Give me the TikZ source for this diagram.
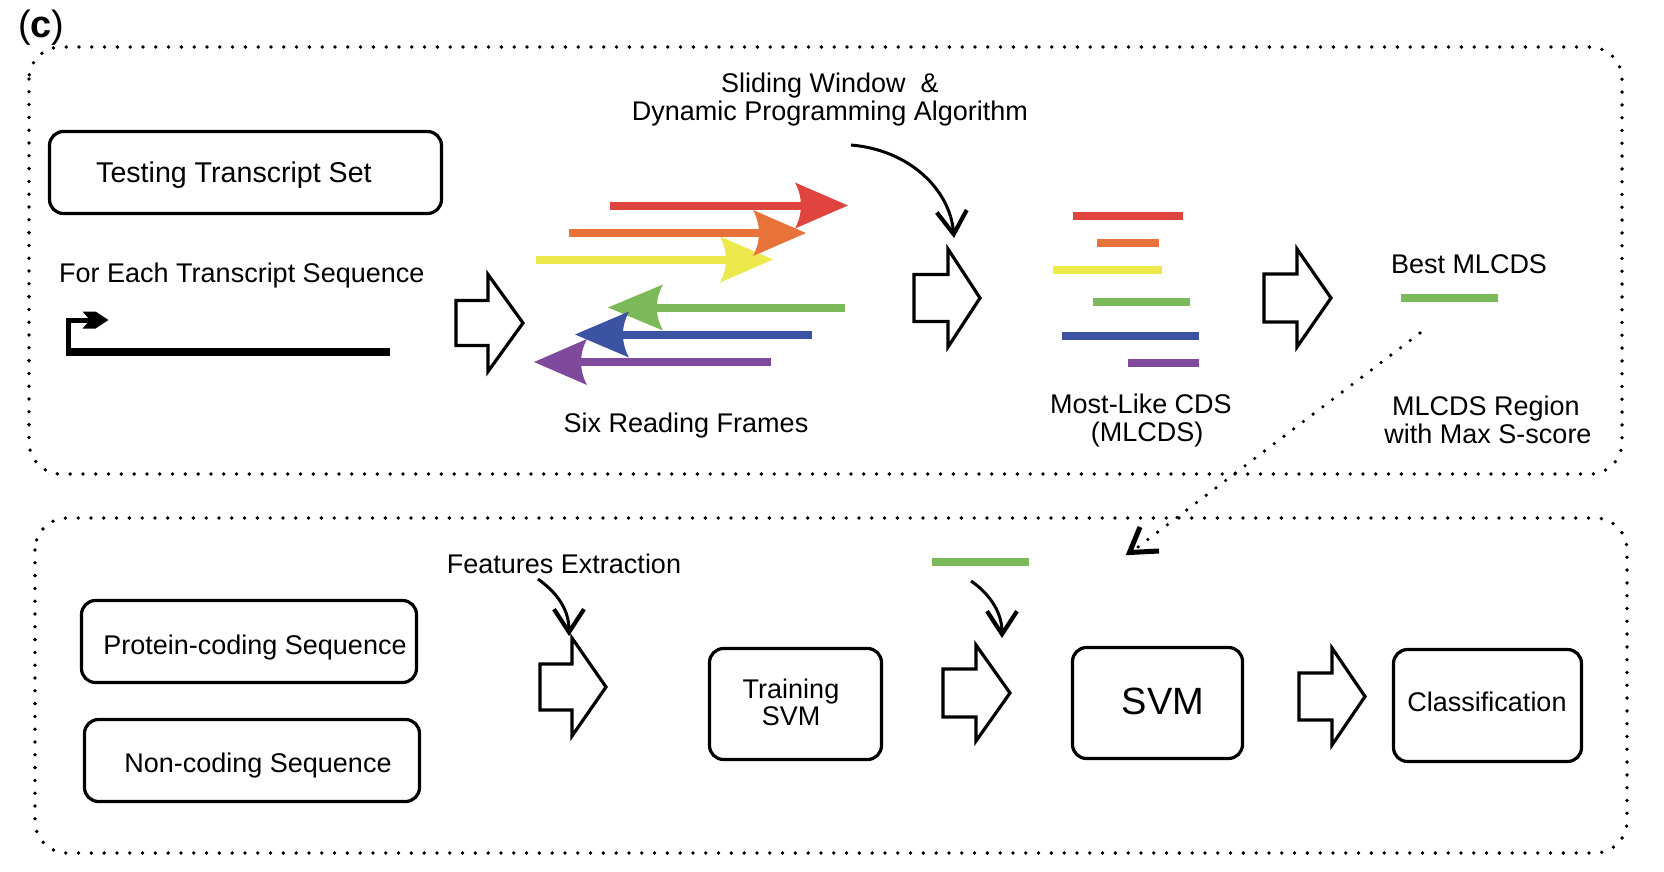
\documentclass[tikz,border=0pt]{standalone}
\usepackage{fontspec}
\setmainfont{Liberation Sans}
\usetikzlibrary{arrows.meta}
\definecolor{fred}{HTML}{E0443F}
\definecolor{forange}{HTML}{E8733A}
\definecolor{fyellow}{HTML}{EDE84B}
\definecolor{fgreen}{HTML}{7CBA59}
\definecolor{fblue}{HTML}{3C52A3}
\definecolor{fpurple}{HTML}{7F4A9B}
% frame arrow: #1 colour, #2 line start x, #3 head back x, #4 tip x, #5 y
\newcommand{\framearrow}[5]{%
  \fill[#1] ({#2},{#5-4}) rectangle ({#3+0.2*(#4-#3)},{#5+4});
  \fill[#1] ({#4},{#5}) -- ({#3},{#5-23}) .. controls ({#3+0.15*(#4-#3)},{#5-8}) and ({#3+0.15*(#4-#3)},{#5+8}) .. ({#3},{#5+23}) -- cycle;}
% hollow arrow: #1 left x, #2 head base x, #3 tip x, #4 centre y, #5 body half, #6 head half
\newcommand{\hollowarrow}[6]{%
  \draw[hollowarr] ({#1},{#4-#5}) -- ({#2},{#4-#5}) -- ({#2},{#4-#6}) -- ({#3},{#4}) -- ({#2},{#4+#6}) -- ({#2},{#4+#5}) -- ({#1},{#4+#5}) -- cycle;}
\begin{document}
\begin{tikzpicture}[x=1pt,y=-1pt,
  txt/.style={font=\fontsize{27}{28}\selectfont, inner sep=0pt, anchor=base},
  box/.style={draw, line width=3.2pt, rounded corners=14pt, inner sep=0pt},
  hollowarr/.style={draw, fill=white, line width=3.2pt, miter limit=10},
  dotbox/.style={line width=3.8pt, line cap=round, dash pattern=on 0pt off 12.8pt, rounded corners=32pt},
  dotline/.style={line width=3.6pt, line cap=round, dash pattern=on 0pt off 12.2pt},
  curvarr/.style={line width=3pt, -{Straight Barb[length=23pt,width=30pt,line width=4.2pt]}}]
\useasboundingbox (0,0) rectangle (1664,872);
\fill[white] (0,0) rectangle (1664,872);

% panel label
\node[font=\fontsize{38}{40}\selectfont, inner sep=0pt, anchor=base west] (lab) at (18,38) {(\textbf{c})};

% dotted panels
\draw[dotbox] (29,47) rectangle (1622,474);
\draw[dotbox] (35,518) rectangle (1627,853);

% ---------- top panel ----------
\node[box, minimum width=392pt, minimum height=82pt] (testbox) at (245.5,172.5) {};
\node[txt, anchor=base west, font=\fontsize{28.6}{30}\selectfont] (testtxt) at (96,182) {Testing Transcript Set};
\node[txt, anchor=base west] (foreach) at (59,282) {For Each Transcript Sequence};

% transcript with promoter arrow
\draw[line width=4.5pt] (68.5,353) -- (68.5,320.5) -- (92,320.5);
\fill (82.5,311.5) -- (95.5,311.5) -- (108.5,320) -- (95.5,328.5) -- (82.5,328.5) -- (90,320) -- cycle;
\fill (66.25,348) rectangle (390,355.5);

\hollowarrow{456}{488}{523}{323}{22.5}{48.5}

% six reading frames
\framearrow{fyellow}{536}{720}{773}{259.5}
\framearrow{forange}{569}{753}{806}{233}
\framearrow{fred}{610}{795}{848}{205.5}
\framearrow{fgreen}{845}{663}{608}{307.5}
\framearrow{fblue}{812}{629}{575}{334.5}
\framearrow{fpurple}{771}{587}{534}{362}
\node[txt] (six) at (686,432) {Six Reading Frames};

% sliding window
\node[txt] (slide1) at (830,93) {Sliding Window\ \ \&};
\node[txt] (slide2) at (830,121) {Dynamic Programming Algorithm};
\coordinate (c1s) at (851,145);
\coordinate (c1e) at (954,238);
\draw[curvarr] (c1s) .. controls (910,150) and (950,190) .. (c1e);

\hollowarrow{914}{948}{980}{298}{23.5}{49}

% MLCDS bars
\fill[fred] (1073,212) rectangle (1183,220);
\fill[forange] (1097,239) rectangle (1159,247);
\fill[fyellow] (1053,266) rectangle (1162,274);
\fill[fgreen] (1093,298) rectangle (1190,306);
\fill[fblue] (1062,332) rectangle (1199,340);
\fill[fpurple] (1128,358.5) rectangle (1199,366.5);
\node[txt] (most1) at (1141,413) {Most-Like CDS};
\node[txt] (most2) at (1147,441) {(MLCDS)};

\hollowarrow{1264}{1297}{1331}{298}{24}{49}

\node[txt] (best) at (1469,273) {Best MLCDS};
\fill[fgreen] (1401,293.5) rectangle (1498,302);
\node[txt] (reg1) at (1486,415) {MLCDS Region};
\node[txt] (reg2) at (1488,443) {with Max S-score};

% dotted link
\coordinate (ds) at (1420,333);
\coordinate (de) at (1138,547);
\draw[dotline] (ds) -- (de);
\draw[line width=5pt] (1140,527) -- (1129.5,552.5) -- (1159,551);

% ---------- bottom panel ----------
\node[box, minimum width=335pt, minimum height=82pt] (protbox) at (249,641.5) {};
\node[txt] (prottxt) at (255,654) {Protein-coding Sequence};
\node[box, minimum width=335pt, minimum height=82pt] (ncbox) at (252,760.5) {};
\node[txt] (nctxt) at (258,772) {Non-coding Sequence};

\node[txt] (feat) at (564,573) {Features Extraction};
\coordinate (c2s) at (538,579);
\coordinate (c2e) at (569,636);
\draw[curvarr] (c2s) .. controls (553,590) and (569,606) .. (c2e);

\hollowarrow{540}{572}{606}{687}{23}{49}

\node[box, minimum width=172pt, minimum height=111pt] (trainbox) at (795.5,704) {};
\node[txt] (train1) at (791,698) {Training};
\node[txt] (train2) at (791,725) {SVM};

\fill[fgreen] (932,558) rectangle (1029,566);
\coordinate (c3s) at (971,581);
\coordinate (c3e) at (1002,638);
\draw[curvarr] (c3s) .. controls (987,592) and (1002,610) .. (c3e);

\hollowarrow{943}{976}{1010}{693}{24}{48}

\node[box, minimum width=170pt, minimum height=111pt] (svmbox) at (1157.5,703) {};
\node[font=\fontsize{38}{40}\selectfont, inner sep=0pt, anchor=base] (svmtxt) at (1163,714) {SVM};

\hollowarrow{1299}{1332}{1365}{696.5}{23.5}{48.5}

\node[box, minimum width=188pt, minimum height=112pt] (classbox) at (1487.5,705.5) {};
\node[txt] (classtxt) at (1487,711) {Classification};
\end{tikzpicture}
\end{document}
